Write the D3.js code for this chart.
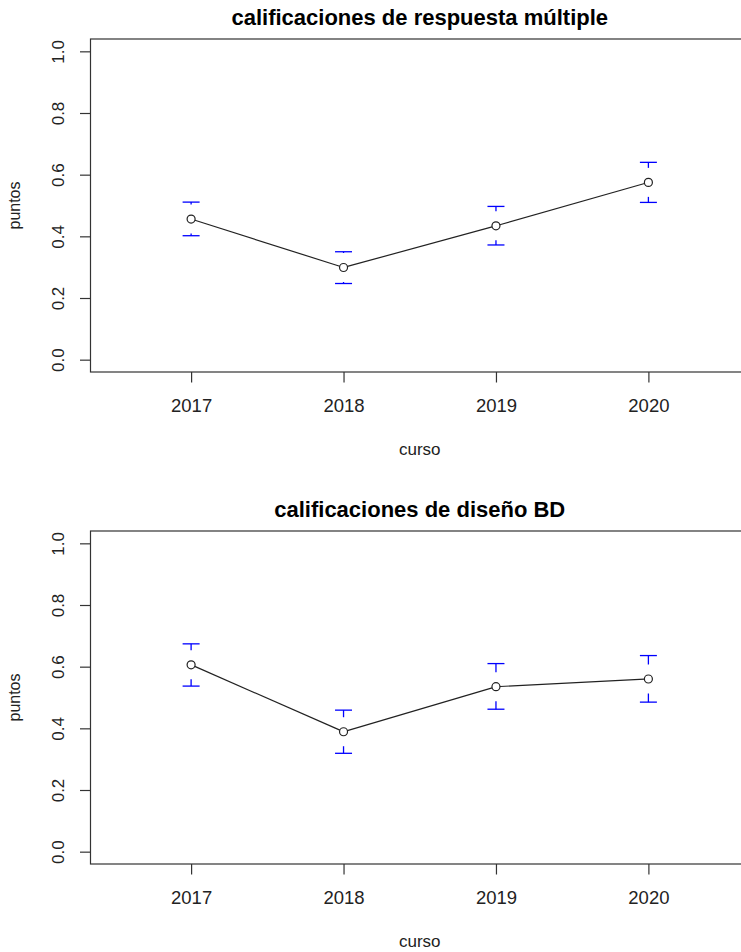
<!DOCTYPE html>
<html>
<head>
<meta charset="utf-8">
<script src="https://cdn.jsdelivr.net/npm/d3@7"></script>
<style>
  html, body { margin: 0; padding: 0; background: #fff; }
  svg { display: block; font-family: "Liberation Sans", Arial, sans-serif; }
</style>
</head>
<body>
<svg id="chart" width="741" height="952"></svg>
<script>
// Course years on the x axis
const years = [2017, 2018, 2019, 2020];
const yTicks = [0, 0.2, 0.4, 0.6, 0.8, 1.0];

// Multiple-choice scores: mean and interval bounds per year
const mcMean  = [0.456, 0.299, 0.434, 0.575];
const mcLower = [0.402, 0.247, 0.372, 0.510];
const mcUpper = [0.511, 0.350, 0.497, 0.640];

// Database design scores: mean and interval bounds per year
const dbMean  = [0.606, 0.389, 0.535, 0.560];
const dbLower = [0.537, 0.319, 0.462, 0.485];
const dbUpper = [0.674, 0.459, 0.610, 0.636];

const svg = d3.select("#chart");

const x = d3.scaleLinear().domain([2016.34, 2020.66]).range([90.5, 749]);

function panel(top, title, mean, lower, upper) {
  const g = svg.append("g").attr("transform", `translate(0,${top})`);
  const y = d3.scaleLinear().domain([-0.04, 1.04]).range([333, 0]);
  const x0 = x.range()[0], x1 = x.range()[1];

  // plot frame
  g.append("rect")
    .attr("x", x0).attr("y", 0)
    .attr("width", x1 - x0).attr("height", 333)
    .attr("fill", "none").attr("stroke", "#333").attr("stroke-width", 1.2);

  // y axis with rotated labels
  const yAxis = g.append("g").attr("transform", `translate(${x0},0)`)
    .call(d3.axisLeft(y).tickValues(yTicks).tickSize(10.5).tickFormat(d3.format(".1f")));
  yAxis.select(".domain").remove();
  yAxis.selectAll("line").attr("stroke", "#333").attr("stroke-width", 1.2);
  yAxis.selectAll("text")
    .attr("transform", `translate(${64 - x0},0) rotate(-90)`)
    .attr("x", 0).attr("y", 0).attr("dy", 0)
    .attr("text-anchor", "middle")
    .attr("font-size", 17).attr("fill", "#222");

  // x axis
  const xAxis = g.append("g").attr("transform", `translate(0,333)`)
    .call(d3.axisBottom(x).tickValues(years).tickSize(10.5).tickFormat(d3.format("d")));
  xAxis.select(".domain").remove();
  xAxis.selectAll("line").attr("stroke", "#333").attr("stroke-width", 1.2);
  xAxis.selectAll("text")
    .attr("y", 39.5).attr("dy", 0)
    .attr("font-size", 18.5).attr("fill", "#222");

  // title and axis labels
  g.append("text")
    .attr("x", (x0 + x1) / 2).attr("y", -14)
    .attr("text-anchor", "middle")
    .attr("font-size", 22).attr("font-weight", "bold").attr("fill", "#000")
    .text(title);
  g.append("text")
    .attr("x", (x0 + x1) / 2).attr("y", 416)
    .attr("text-anchor", "middle")
    .attr("font-size", 17).attr("fill", "#222")
    .text("curso");
  g.append("text")
    .attr("transform", `translate(20,${333 / 2}) rotate(-90)`)
    .attr("text-anchor", "middle")
    .attr("font-size", 16).attr("fill", "#222")
    .text("puntos");

  const pts = years.map((yr, i) => ({ yr, m: mean[i], lo: lower[i], hi: upper[i] }));
  const gap = 14.5, cap = 8.5;

  // interval bars (leaving a gap around each point)
  const eb = g.append("g").attr("stroke", "#0000ff").attr("stroke-width", 1.3).attr("fill", "none");
  pts.forEach(p => {
    const cx = x(p.yr), ym = y(p.m), yl = y(p.lo), yh = y(p.hi);
    if (ym - gap > yh) eb.append("line").attr("x1", cx).attr("x2", cx).attr("y1", yh).attr("y2", ym - gap);
    if (ym + gap < yl) eb.append("line").attr("x1", cx).attr("x2", cx).attr("y1", ym + gap).attr("y2", yl);
    eb.append("line").attr("x1", cx - cap).attr("x2", cx + cap).attr("y1", yh).attr("y2", yh);
    eb.append("line").attr("x1", cx - cap).attr("x2", cx + cap).attr("y1", yl).attr("y2", yl);
  });

  // mean line with open circles
  const r = 4;
  for (let i = 0; i < pts.length - 1; i++) {
    const ax = x(pts[i].yr), ay = y(pts[i].m), bx = x(pts[i + 1].yr), by = y(pts[i + 1].m);
    const len = Math.hypot(bx - ax, by - ay), ux = (bx - ax) / len, uy = (by - ay) / len;
    g.append("line")
      .attr("x1", ax + ux * r).attr("y1", ay + uy * r)
      .attr("x2", bx - ux * r).attr("y2", by - uy * r)
      .attr("stroke", "#222").attr("stroke-width", 1.2);
  }
  g.selectAll("circle.pt").data(pts).join("circle")
    .attr("class", "pt")
    .attr("cx", d => x(d.yr)).attr("cy", d => y(d.m)).attr("r", r)
    .attr("fill", "none").attr("stroke", "#222").attr("stroke-width", 1.2);
}

panel(39, "calificaciones de respuesta múltiple", mcMean, mcLower, mcUpper);
panel(531, "calificaciones de diseño BD", dbMean, dbLower, dbUpper);
</script>
</body>
</html>
